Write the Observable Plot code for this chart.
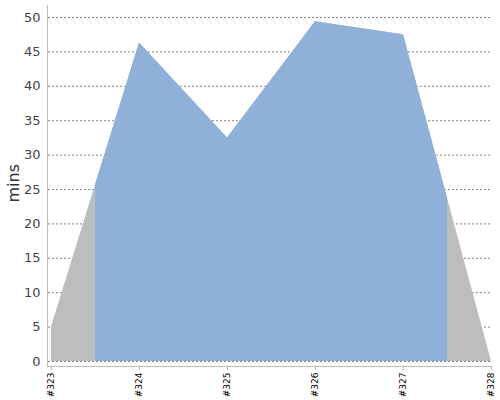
<!DOCTYPE html>
<html><head><meta charset="utf-8">
<script src="https://cdn.jsdelivr.net/npm/d3@7"></script>
<script src="https://cdn.jsdelivr.net/npm/@observablehq/plot@0.6"></script>
<style>body{margin:0;background:#fff}</style>
</head><body><div id="chart"></div>
<script>
const categories = ["#323", "#324", "#325", "#326", "#327", "#328"];
const values = [5, 46.3, 32.5, 49.4, 47.5, 0];
const yTicks = [0, 5, 10, 15, 20, 25, 30, 35, 40, 45, 50];
const data = categories.map((c, i) => ({i, c, v: values[i]}));

const plot = Plot.plot({
  width: 500, height: 400,
  marginLeft: 51, marginRight: 9, marginTop: 17, marginBottom: 39,
  style: {fontFamily: "DejaVu Sans, sans-serif", background: "#fff"},
  x: {type: "linear", domain: [0, categories.length - 1]},
  y: {domain: [0, 50]},
  marks: [
    Plot.gridY(yTicks, {stroke: "#666", strokeOpacity: 0.8, strokeDasharray: "2,2", insetLeft: -3, insetRight: 1}),
    Plot.areaY(data, {x: "i", y: "v", fill: "#bdbdbd"}),
    Plot.areaY(data, {x: "i", y: "v", fill: "#8eb0d9"}),
    Plot.ruleX([0], {stroke: "#bbb", dx: -4, insetTop: -12, insetBottom: -5}),
    Plot.ruleY([0], {stroke: "#bbb", dy: 5, insetLeft: -4}),
    Plot.axisY(yTicks, {tickSize: 0, tickPadding: 11, fontSize: 13, color: "#444", label: null}),
    Plot.axisX(d3.range(categories.length), {tickSize: 4, dy: 5, tickPadding: 2, tickRotate: -90, fontSize: 9, color: "#000", stroke: "#bbb", tickFormat: i => categories[i], label: null}),
    Plot.text(["mins"], {frameAnchor: "left", dx: -38, dy: 13, rotate: -90, fontSize: 16, fill: "#333"})
  ]
});

// clip the blue area to the span between midpoints of first and last intervals
const xs = plot.scale("x");
const areas = plot.querySelectorAll('g[aria-label="area"]');
const blue = areas[1];
const ns = "http://www.w3.org/2000/svg";
const defs = document.createElementNS(ns, "defs");
const cp = document.createElementNS(ns, "clipPath");
cp.setAttribute("id", "blueclip");
const rect = document.createElementNS(ns, "rect");
const x0 = xs.apply(0.5), x1 = xs.apply(categories.length - 1.5);
rect.setAttribute("x", x0);
rect.setAttribute("width", x1 - x0);
rect.setAttribute("y", 0);
rect.setAttribute("height", 400);
cp.appendChild(rect); defs.appendChild(cp);
plot.insertBefore(defs, plot.firstChild);
blue.setAttribute("clip-path", "url(#blueclip)");
document.getElementById("chart").appendChild(plot);
</script></body></html>
